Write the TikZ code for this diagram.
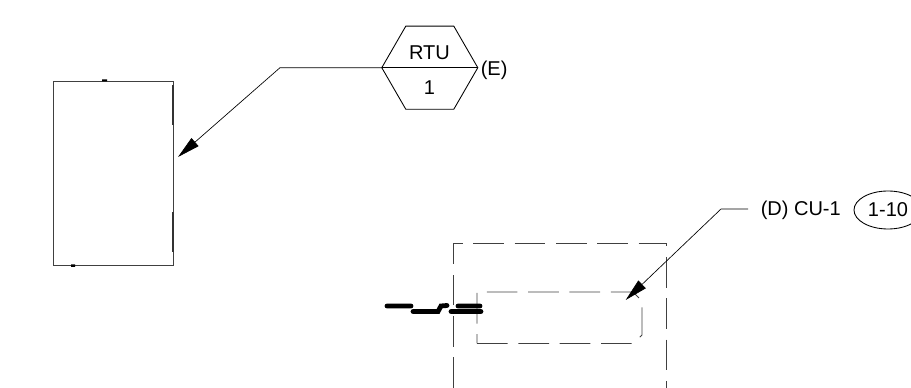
\documentclass[tikz,border=0pt]{standalone}
\usepackage{fontspec}
\setmainfont{Liberation Sans}
\usetikzlibrary{arrows.meta,shapes.geometric}
\tikzset{
  label/.style={inner sep=0pt,font=\fontsize{15}{18}\selectfont},
  leader/.style={line width=0.5pt,-{Triangle[length=17pt,width=8pt]}},
  wall/.style={line width=0.65pt,draw=black!75},
  hidden/.style={line width=0.65pt,draw=black!75,dash pattern=on 23pt off 8pt},
  heavy/.style={line width=3.6pt,line cap=round}
}
\begin{document}
\begin{tikzpicture}[x=0.75pt,y=-0.75pt]
    \useasboundingbox (0,0) rectangle (911,388);
    \clip (0,0) rectangle (911,388);
    % roof unit
    \draw[wall] (53,81) rectangle (173,265);
    \draw[line width=2pt,draw=black!80] (173,85) -- (173,125) (173,212) -- (173,252);
    \fill (102,79.5) rectangle (107,81.5) (71,264.5) rectangle (75,267);
    % tag
    \node[draw,line width=0.65pt,regular polygon,regular polygon sides=6,minimum size=72pt,inner sep=0pt,outer sep=0pt] (rtu) at (429.8,67.7) {};
    \draw[line width=0.65pt] (rtu.west) -- (rtu.east);
    \node[label] (rtutop) at (429.5,53) {RTU};
    \node[label] (rtubot) at (429.5,88) {1};
    \node[label,anchor=west] (rtuE) at (480.5,70) {(E)};
    \coordinate (bendA) at (280,67.7);
    \coordinate (tipA) at (178,157);
    \draw[leader] (rtu.west) -- (bendA) -- (tipA);
    % condensing unit
    \draw[hidden] (453,388) -- (453,243) -- (666,243) -- (666,388);
    \draw[hidden] (477,343.5) -- (633,343.5) -- (642,335) -- (642,301) -- (633,292) -- (477,292) -- (477,343.5);
    \draw[heavy] (387,306) -- (411,306) (413,311.5) -- (438,311.5) -- (441,306) -- (447,305.5) (451,311.5) -- (481,311.5) (458,306) -- (480,306);
    % callout
    \node[label,anchor=west] (cu) at (760.5,210) {(D) CU-1};
    \node[draw,ellipse,line width=0.65pt,minimum width=51pt,minimum height=28.5pt,inner sep=0pt] (sheet) at (888,210) {};
    \node[label] (sheetno) at (888,210) {1-10};
    \coordinate (bendB) at (721,209);
    \coordinate (startB) at (748,209);
    \coordinate (tipB) at (625.7,300);
    \draw[leader] (startB) -- (bendB) -- (tipB);
\end{tikzpicture}
\end{document}
